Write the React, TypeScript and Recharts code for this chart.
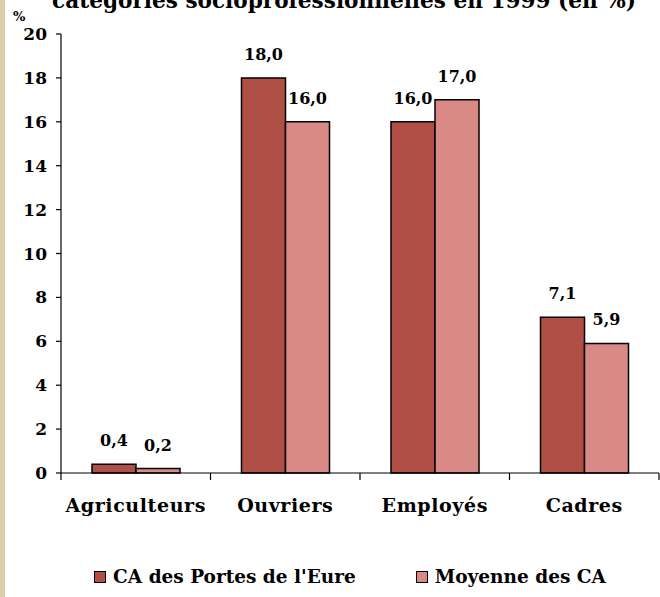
import { BarChart, Bar, XAxis, YAxis, LabelList } from "recharts";

const categories = ["Agriculteurs", "Ouvriers", "Employés", "Cadres"];
const portesEure = [0.4, 18.0, 16.0, 7.1];
const moyenneCA = [0.2, 16.0, 17.0, 5.9];
const yTicks = [0, 2, 4, 6, 8, 10, 12, 14, 16, 18, 20];
const seriesNames = ["CA des Portes de l'Eure", "Moyenne des CA"];
const titre = "catégories socioprofessionnelles en 1999 (en %)";

const FONT = "'DejaVu Serif', serif";
const DARK = "#b04f45";
const LIGHT = "#d98a86";
const seriesColors = [DARK, LIGHT];

const data = categories.map((c, i) => ({
  categorie: c,
  portes: portesEure[i],
  moyenne: moyenneCA[i],
}));

const fmt = (v: any) => Number(v).toFixed(1).replace(".", ",");

function CategoryTick(props: any) {
  const { x, y, payload, index, visibleTicksCount } = props;
  const half = payload?.offset ?? 74.75;
  const isLast = index === visibleTicksCount - 1;
  return (
    <g>
      <line x1={x - half} x2={x - half} y1={y} y2={y + 7} stroke="#000" strokeWidth={1.2} />
      {isLast && (
        <line x1={x + half} x2={x + half} y1={y} y2={y + 7} stroke="#000" strokeWidth={1.2} />
      )}
      <text
        x={x}
        y={y + 39}
        textAnchor="middle"
        fontFamily={FONT}
        fontWeight="bold"
        fontSize={19}
        letterSpacing={0.6}
        fill="#000"
      >
        {payload.value}
      </text>
    </g>
  );
}

function Legende() {
  return (
    <div
      style={{
        position: "absolute",
        top: 566,
        left: 0,
        width: 660,
        display: "flex",
        justifyContent: "center",
        gap: 60,
        paddingLeft: 40,
        boxSizing: "border-box",
        fontFamily: FONT,
        fontWeight: "bold",
        fontSize: 18.5,
        lineHeight: "22px",
      }}
    >
      {seriesNames.map((name, i) => (
        <div key={name} style={{ display: "flex", alignItems: "center" }}>
          <span
            style={{
              width: 10,
              height: 10,
              background: seriesColors[i],
              border: "1.5px solid #000",
              marginRight: 7,
              display: "inline-block",
            }}
          />
          <span>{name}</span>
        </div>
      ))}
    </div>
  );
}

export default function App() {
  return (
    <div
      style={{
        position: "absolute",
        left: 0,
        top: 0,
        width: 660,
        height: 597,
        background: "#fff",
        overflow: "hidden",
      }}
    >
      <div
        style={{ position: "absolute", left: 0, top: 0, width: 5, height: 597, background: "#dbcea9" }}
      />
      <svg
        width={660}
        height={597}
        style={{ position: "absolute", left: 0, top: 0, pointerEvents: "none" }}
      >
        <text x={344} y={8} textAnchor="middle" fontFamily={FONT} fontWeight="bold" fontSize={21.6}>
          {titre}
        </text>
        <text x={13} y={21} fontFamily={FONT} fontWeight="bold" fontSize={13}>
          %
        </text>
      </svg>
      <BarChart
        width={660}
        height={597}
        data={data}
        margin={{ top: 34, right: 1, left: 0, bottom: 0 }}
        barGap={0}
        style={{ position: "absolute", left: 0, top: 0 }}
      >
        <XAxis
          dataKey="categorie"
          interval={0}
          tickLine={false}
          tickSize={0}
          tickMargin={0}
          axisLine={{ stroke: "#000", strokeWidth: 1.2 }}
          tick={<CategoryTick />}
          height={124}
        />
        <YAxis
          domain={[0, 20]}
          ticks={yTicks}
          interval={0}
          width={61}
          tickSize={5}
          tickMargin={9}
          axisLine={{ stroke: "#000", strokeWidth: 1.2 }}
          tickLine={{ stroke: "#000", strokeWidth: 1.2 }}
          tick={{ fill: "#000", fontFamily: FONT, fontWeight: "bold", fontSize: 17 }}
        />
        <Bar
          dataKey="portes"
          name={seriesNames[0]}
          fill={DARK}
          stroke="#000"
          strokeWidth={1.5}
          barSize={44}
          isAnimationActive={false}
        >
          <LabelList
            dataKey="portes"
            position="top"
            offset={18}
            formatter={fmt}
            style={{ fontFamily: FONT, fontWeight: "bold", fontSize: 16, fill: "#000" }}
          />
        </Bar>
        <Bar
          dataKey="moyenne"
          name={seriesNames[1]}
          fill={LIGHT}
          stroke="#000"
          strokeWidth={1.5}
          barSize={44}
          isAnimationActive={false}
        >
          <LabelList
            dataKey="moyenne"
            position="top"
            offset={18}
            formatter={fmt}
            style={{ fontFamily: FONT, fontWeight: "bold", fontSize: 16, fill: "#000" }}
          />
        </Bar>
      </BarChart>
      <Legende />
    </div>
  );
}
